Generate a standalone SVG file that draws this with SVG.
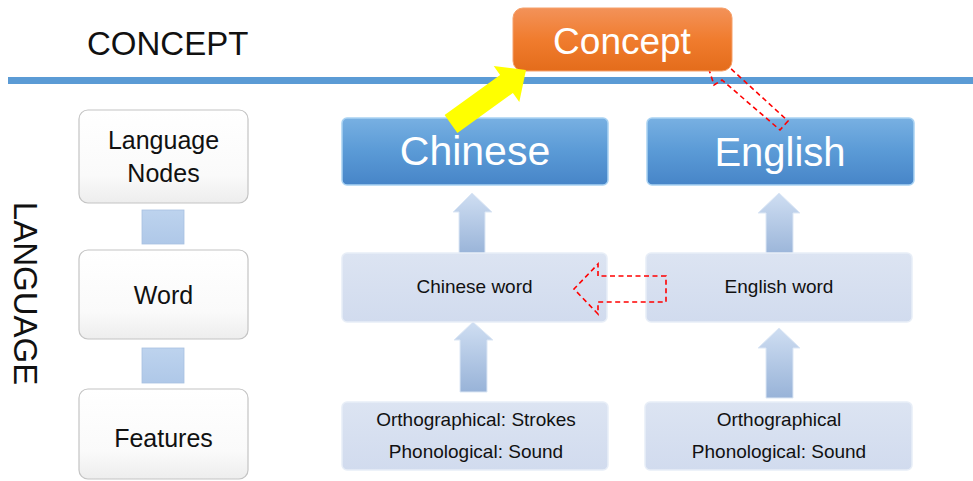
<svg xmlns="http://www.w3.org/2000/svg" width="973" height="481" viewBox="0 0 973 481">
  <defs>
    <linearGradient id="gOrange" x1="0" y1="0" x2="0" y2="1">
      <stop offset="0" stop-color="#F39259"/>
      <stop offset="0.5" stop-color="#F07C2E"/>
      <stop offset="1" stop-color="#E46C1B"/>
    </linearGradient>
    <linearGradient id="gBlue" x1="0" y1="0" x2="0" y2="1">
      <stop offset="0" stop-color="#78B0E2"/>
      <stop offset="0.5" stop-color="#5A9AD6"/>
      <stop offset="1" stop-color="#4785C8"/>
    </linearGradient>
    <linearGradient id="gLight" x1="0" y1="0" x2="0" y2="1">
      <stop offset="0" stop-color="#DCE4F2"/>
      <stop offset="1" stop-color="#D1DBEE"/>
    </linearGradient>
    <linearGradient id="gWhite" x1="0" y1="0" x2="0" y2="1">
      <stop offset="0" stop-color="#FFFFFF"/>
      <stop offset="0.7" stop-color="#FAFAFA"/>
      <stop offset="1" stop-color="#EDEDED"/>
    </linearGradient>
    <linearGradient id="gArrow" x1="0" y1="0" x2="0" y2="1">
      <stop offset="0" stop-color="#CFDEF2"/>
      <stop offset="1" stop-color="#98B3D8"/>
    </linearGradient>
    <linearGradient id="gSq" x1="0" y1="0" x2="0" y2="1">
      <stop offset="0" stop-color="#BDD3EE"/>
      <stop offset="1" stop-color="#AFC8E8"/>
    </linearGradient>
  </defs>
  <style>
    .t { font-family: "Liberation Sans", Arial, sans-serif; }
    .dark { fill: #111111; }
    .wt { fill: #FFFFFF; }
    .blue { fill: url(#gBlue); stroke: #A9D2F2; stroke-width: 1.5; }
    .light { fill: url(#gLight); stroke: #E8EEF7; stroke-width: 1.5; }
    .white { fill: url(#gWhite); stroke: #C4C4C4; stroke-width: 1.2; }
    .up { fill: url(#gArrow); stroke: #DCE7F5; stroke-width: 1; }
    .red { fill: none; stroke: #FF0000; stroke-width: 1.6; stroke-dasharray: 5 3.5; }
  </style>

  <rect x="0" y="0" width="973" height="481" fill="#FFFFFF"/>

  <!-- horizontal divider -->
  <rect id="divider" x="8" y="77" width="965" height="7" fill="#5B9BD5"/>

  <text class="t dark" x="87" y="54.5" font-size="33">CONCEPT</text>
  <text class="t dark" font-size="33" text-anchor="middle" transform="translate(14,293.5) rotate(90)">LANGUAGE</text>

  <!-- up arrows (behind boxes) -->
  <g id="connectors-up">
    <path class="up" d="M459,255 V212 H453 L472,193 L492,212 H485 V255 Z"/>
    <path class="up" d="M766,258 V213 H758 L779,193 L800,213 H793 V258 Z"/>
    <path class="up" d="M460,392 V340 H454 L473,322 L493,340 H487 V392 Z"/>
    <path class="up" d="M766,398 V348 H758 L779,328 L800,348 H793 V398 Z"/>
  </g>

  <!-- left column -->
  <g id="node-language-nodes">
    <rect class="white" x="79" y="110" width="169" height="93" rx="9"/>
    <text class="t dark" x="163.5" y="149" font-size="25" text-anchor="middle">Language</text>
    <text class="t dark" x="163.5" y="182" font-size="25" text-anchor="middle">Nodes</text>
  </g>
  <g id="node-word">
    <rect class="white" x="79" y="250" width="169" height="89" rx="9"/>
    <text class="t dark" x="163.5" y="304" font-size="25" text-anchor="middle">Word</text>
  </g>
  <g id="node-features">
    <rect class="white" x="79" y="389" width="169" height="90" rx="9"/>
    <text class="t dark" x="163.5" y="447" font-size="25" text-anchor="middle">Features</text>
  </g>

  <!-- language boxes -->
  <g id="node-chinese">
    <rect class="blue" x="342" y="118" width="266" height="67" rx="5"/>
    <text class="t wt" x="475" y="165" font-size="41" text-anchor="middle">Chinese</text>
  </g>
  <g id="node-english">
    <rect class="blue" x="647" y="118" width="267" height="67" rx="5"/>
    <text class="t wt" x="780" y="166" font-size="40" text-anchor="middle">English</text>
  </g>

  <g id="node-chinese-word">
    <rect class="light" x="342" y="253" width="265" height="69" rx="5"/>
    <text class="t dark" x="474.5" y="293" font-size="19" text-anchor="middle">Chinese word</text>
  </g>
  <g id="node-english-word">
    <rect class="light" x="646" y="253" width="266" height="69" rx="5"/>
    <text class="t dark" x="779" y="293" font-size="19" text-anchor="middle">English word</text>
  </g>

  <g id="node-chinese-features">
    <rect class="light" x="342" y="402" width="266" height="68" rx="5"/>
    <text class="t dark" x="476" y="426" font-size="19" text-anchor="middle">Orthographical: Strokes</text>
    <text class="t dark" x="476" y="458" font-size="19" text-anchor="middle">Phonological: Sound</text>
  </g>
  <g id="node-english-features">
    <rect class="light" x="645" y="402" width="267" height="68" rx="5"/>
    <text class="t dark" x="779" y="426" font-size="19" text-anchor="middle">Orthographical</text>
    <text class="t dark" x="779" y="458" font-size="19" text-anchor="middle">Phonological: Sound</text>
  </g>

  <g id="connectors">
    <!-- small squares between left boxes -->
    <rect x="142" y="210" width="42" height="34" fill="url(#gSq)" stroke="#A8C0E0" stroke-width="0.8"/>
    <rect x="142" y="348" width="42" height="35" fill="url(#gSq)" stroke="#A8C0E0" stroke-width="0.8"/>
    <!-- red dashed: English word -> Chinese word -->
    <path class="red" d="M666,276 H598 V264 L574,289 L598,314 V302 H666 Z"/>
    <!-- red dashed: English -> Concept -->
    <path class="red" d="M788,121 L780,130 L722,80 L714,85 L706,60 L731,58 L729,67 Z"/>
  </g>

  <g id="node-concept">
    <rect x="513" y="8" width="219" height="63" rx="10" fill="url(#gOrange)" stroke="#F5A06A" stroke-width="1"/>
    <text class="t wt" x="622" y="54" font-size="37" text-anchor="middle">Concept</text>
  </g>

  <g id="connector-yellow">
    <polygon points="444.6,115.1 500.1,75.1 493.7,66.1 526,70 519.3,101.9 512.9,92.9 457.4,132.9" fill="#FFFF00"/>
  </g>
</svg>
